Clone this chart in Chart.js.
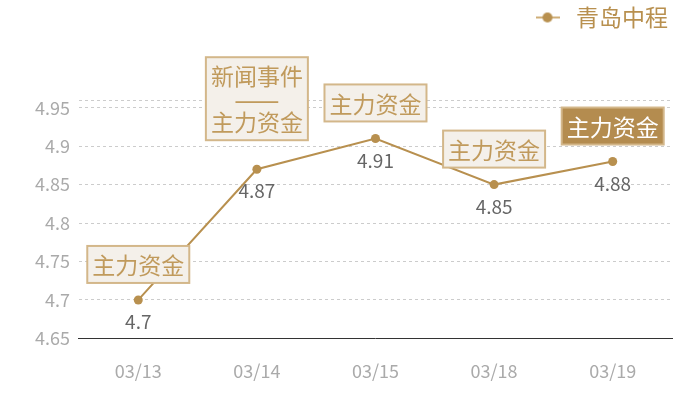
<!DOCTYPE html>
<html>
<head>
<meta charset="utf-8">
<script src="https://cdn.jsdelivr.net/npm/chart.js@4/dist/chart.umd.min.js"></script>
<style>
  html, body { margin: 0; padding: 0; background: #fff; }
  #wrap { width: 700px; height: 400px; }
</style>
</head>
<body>
<div id="wrap"><canvas id="chart1"></canvas></div>
<script>
var categories = ['03/13', '03/14', '03/15', '03/18', '03/19'];
var prices = [4.7, 4.87, 4.91, 4.85, 4.88];
var tickValues = [4.65, 4.7, 4.75, 4.8, 4.85, 4.9, 4.95];
var eventLabels = [
    ['主力资金'],
    ['新闻事件', '——', '主力资金'],
    ['主力资金'],
    ['主力资金'],
    ['主力资金']
];
var highlighted = [false, false, false, false, true];

var gold = '#b8904f';
var font = '"Noto Sans CJK SC", "Noto Sans", sans-serif';

// legend marker: short line with a dot
var marker = document.createElement('canvas');
marker.width = 24;
marker.height = 12;
(function () {
    var c = marker.getContext('2d');
    c.strokeStyle = '#cfae78';
    c.lineWidth = 2;
    c.beginPath();
    c.moveTo(0, 6);
    c.lineTo(24, 6);
    c.stroke();
    c.fillStyle = gold;
    c.beginPath();
    c.arc(12, 6, 5, 0, Math.PI * 2);
    c.fill();
})();

var legendSpace = {
    id: 'legendSpace',
    beforeInit: function (chart) {
        var fit = chart.legend.fit;
        chart.legend.fit = function () {
            fit.bind(chart.legend)();
            this.height += 61;
        };
    }
};

var labelsPlugin = {
    id: 'labelsPlugin',
    afterDatasetsDraw: function (chart) {
        var ctx = chart.ctx;
        var meta = chart.getDatasetMeta(0);
        ctx.save();
        meta.data.forEach(function (pt, i) {
            // value below the point
            ctx.font = '19px ' + font;
            ctx.fillStyle = '#666';
            ctx.textAlign = 'center';
            ctx.textBaseline = 'middle';
            ctx.fillText(String(prices[i]), pt.x, pt.y + 22);

            // event box above the point
            var lines = eventLabels[i];
            ctx.font = '23px ' + font;
            var w = 0;
            lines.forEach(function (t) { w = Math.max(w, ctx.measureText(t).width); });
            var lh = 23, padX = 5, padY = 7;
            var bw = w + padX * 2;
            var bh = lines.length * lh + padY * 2;
            var gap = lines.length > 1 ? 29 : 17;
            var bx = pt.x - bw / 2;
            var by = pt.y - gap - bh;
            ctx.fillStyle = highlighted[i] ? '#b48c4f' : '#f4f0ea';
            ctx.fillRect(bx, by, bw, bh);
            ctx.strokeStyle = '#d3b78a';
            ctx.lineWidth = 2;
            ctx.strokeRect(bx, by, bw, bh);
            ctx.fillStyle = highlighted[i] ? '#ffffff' : '#c09a5c';
            lines.forEach(function (t, j) {
                // the dash separator is drawn a bit larger so it spans the box
                ctx.font = (/^—+$/.test(t) ? '27px ' : '23px ') + font;
                ctx.fillText(t, pt.x, by + padY + lh * j + lh / 2 + 1);
            });
        });
        ctx.restore();
    }
};

window.onload = function () {
    var ctx1 = document.getElementById('chart1').getContext('2d');

    window.theChart1 = new Chart(ctx1, {
        type: 'line',
        data: {
            labels: categories,
            datasets: [{
                label: '青岛中程',
                data: prices,
                borderColor: gold,
                backgroundColor: gold,
                borderWidth: 2,
                pointRadius: 4.5,
                pointBackgroundColor: gold,
                pointBorderWidth: 0,
                pointStyle: 'circle',
                tension: 0
            }]
        },
        options: {
            responsive: true,
            maintainAspectRatio: false,
            animation: false,
            layout: {
                padding: { left: 26, right: 28, top: 2, bottom: -4 }
            },
            plugins: {
                legend: {
                    position: 'top',
                    align: 'end',
                    labels: {
                        usePointStyle: true,
                        pointStyle: marker,
                        pointStyleWidth: 34,
                        color: gold,
                        font: { size: 23, family: font },
                        padding: 4
                    }
                },
                tooltip: { enabled: false }
            },
            scales: {
                x: {
                    offset: true,
                    grid: { display: false, drawTicks: false },
                    border: { display: true, color: '#333', width: 1 },
                    ticks: {
                        color: '#aaa',
                        padding: 22,
                        font: { size: 18, family: font }
                    }
                },
                y: {
                    min: 4.65,
                    max: 4.96,
                    afterBuildTicks: function (scale) {
                        scale.ticks = tickValues.concat([4.96]).map(function (v) { return { value: v }; });
                    },
                    grid: {
                        drawTicks: false,
                        color: function (c) {
                            return c.tick && c.tick.value === 4.65 ? 'rgba(0,0,0,0)' : '#cccccc';
                        }
                    },
                    border: { display: false, dash: [3, 3] },
                    ticks: {
                        color: '#aaa',
                        padding: 9,
                        font: { size: 18, family: font },
                        callback: function (v) {
                            return tickValues.indexOf(v) >= 0 ? String(v) : '';
                        }
                    }
                }
            }
        },
        plugins: [legendSpace, labelsPlugin]
    });
};
</script>
</body>
</html>
